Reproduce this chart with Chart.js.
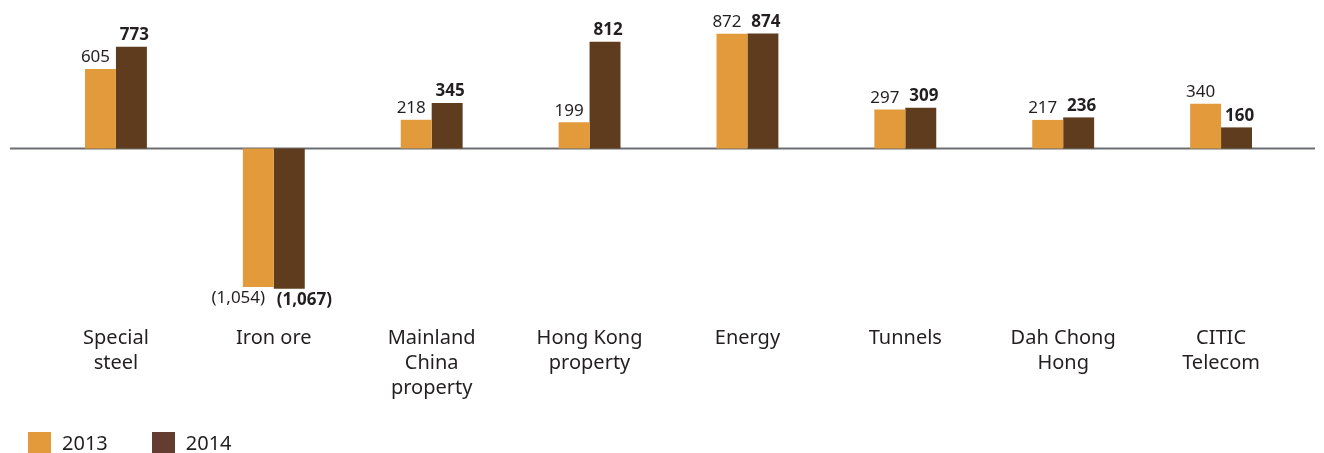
<!DOCTYPE html>
<html>
<head>
<meta charset="utf-8">
<script src="https://cdn.jsdelivr.net/npm/chart.js@4.4.1/dist/chart.umd.min.js"></script>
<style>
  body { margin: 0; background: #fff; }
  #wrap { position: relative; width: 1324px; height: 453px; }
  #legend { position: absolute; left: 28px; top: 431px; display: flex; font-family: "Noto Sans", sans-serif; font-size: 20px; color: #231f20; }
  .item { display: flex; align-items: center; margin-right: 44px; height: 22px; }
  .box { width: 23px; height: 21px; margin-right: 11px; }
</style>
</head>
<body>
<div id="wrap">
  <canvas id="myChart" width="1324" height="453"></canvas>
  <div id="legend"></div>
</div>
<script>
// Datos
const categories = [
    ['Special', 'steel'],
    ['Iron ore'],
    ['Mainland', 'China', 'property'],
    ['Hong Kong', 'property'],
    ['Energy'],
    ['Tunnels'],
    ['Dah Chong', 'Hong'],
    ['CITIC', 'Telecom']
];
const values2013 = [605, -1054, 218, 199, 872, 297, 217, 340];
const values2014 = [773, -1067, 345, 812, 874, 309, 236, 160];
const seriesLabels = ['2013', '2014'];

const orange = '#e39a3b';
const brown = '#5f3c1e';
const textColor = '#231f20';

function fmt(v) {
    const s = Math.abs(v).toLocaleString('en-US');
    return v < 0 ? '(' + s + ')' : s;
}

// Línea del cero y etiquetas de valores
const valueLabels = {
    id: 'valueLabels',
    beforeDatasetsDraw(chart) {
        const ctx = chart.ctx;
        const y0 = chart.scales.y.getPixelForValue(0);
        ctx.save();
        ctx.strokeStyle = '#6d6e71';
        ctx.lineWidth = 2;
        ctx.beginPath();
        ctx.moveTo(10, y0);
        ctx.lineTo(1315, y0);
        ctx.stroke();
        ctx.restore();
    },
    afterDatasetsDraw(chart) {
        const ctx = chart.ctx;
        ctx.save();
        ctx.fillStyle = textColor;
        chart.data.datasets.forEach((ds, di) => {
            const meta = chart.getDatasetMeta(di);
            ctx.font = (di === 1 ? 'bold ' : '') + '17px "Noto Sans", sans-serif';
            meta.data.forEach((bar, i) => {
                const v = ds.data[i];
                ctx.textAlign = 'center';
                if (v >= 0) {
                    ctx.textBaseline = 'bottom';
                    const dx = di === 0 ? -5 : 3;
                    ctx.fillText(fmt(v), bar.x + dx, bar.y - 3);
                } else {
                    ctx.textBaseline = 'top';
                    const dx = di === 0 ? -20 : 15;
                    ctx.fillText(fmt(v), bar.x + dx, bar.y + 3);
                }
            });
        });
        ctx.restore();
    }
};

const ctx = document.getElementById('myChart').getContext('2d');
const myChart = new Chart(ctx, {
    type: 'bar',
    data: {
        labels: categories,
        datasets: [
            { label: seriesLabels[0], data: values2013, backgroundColor: orange },
            { label: seriesLabels[1], data: values2014, backgroundColor: brown }
        ]
    },
    options: {
        responsive: false,
        animation: false,
        layout: { padding: { left: 37, right: 24, top: 17, bottom: 27 } },
        plugins: {
            legend: { display: false },
            tooltip: { enabled: false }
        },
        datasets: {
            bar: { categoryPercentage: 0.392, barPercentage: 1.0 }
        },
        scales: {
            x: {
                grid: { display: false },
                border: { display: false },
                ticks: {
                    color: textColor,
                    padding: 25,
                    maxRotation: 0,
                    autoSkip: false,
                    font: { family: '"Noto Sans", sans-serif', size: 20, lineHeight: 1.25 }
                }
            },
            y: {
                display: false,
                min: -1100,
                max: 1000
            }
        }
    },
    plugins: [valueLabels]
});

// Leyenda
const legendEl = document.getElementById('legend');
const legendColors = [orange, '#633d30'];
myChart.data.datasets.forEach((ds, i) => {
    const item = document.createElement('div');
    item.className = 'item';
    item.innerHTML = '<div class="box" style="background:' + legendColors[i] + '"></div><span>' + ds.label + '</span>';
    legendEl.appendChild(item);
});
</script>
</body>
</html>
